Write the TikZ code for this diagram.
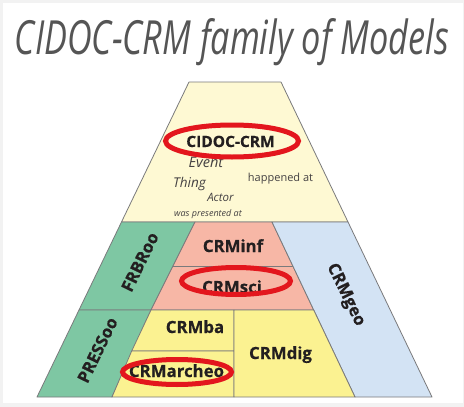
\documentclass[tikz,border=0pt]{standalone}
\usepackage{fontspec}
\setmainfont{Open Sans}
\newfontfamily\labfont{Open Sans}[BoldFeatures={FakeBold=0.5}]
\usepackage{graphicx}
\definecolor{pagegray}{HTML}{F2F2F2}
\definecolor{cream}{HTML}{FEF9D3}
\definecolor{frgreen}{HTML}{7EC7A3}
\definecolor{pinkc}{HTML}{F7B7A6}
\definecolor{bluec}{HTML}{D3E3F4}
\definecolor{yellowc}{HTML}{FBF291}
\definecolor{redc}{HTML}{E3161D}
\definecolor{edgec}{HTML}{7A7A7C}
\definecolor{titlec}{HTML}{555555}
\definecolor{labelc}{HTML}{231F20}
\tikzset{
  part/.style={draw=edgec, line width=0.8pt, line join=round},
  lab/.style={font=\labfont\fontsize{16.8}{18}\selectfont\bfseries, text=labelc, inner sep=0pt},
  ital/.style={font=\itshape, text=labelc!85, inner sep=0pt},
  ring/.style={draw=redc, line width=5pt},
}
\begin{document}
\begin{tikzpicture}[x=1pt,y=-1pt]
\useasboundingbox (0,0) rectangle (464,407);
\fill[pagegray] (0,0) rectangle (464,407);
\fill[white] (3,3) rectangle (463,403);
% title
\node[anchor=base, text=titlec, inner sep=0pt] (title) at (232,54.5)
  {\resizebox{434pt}{36pt}{\itshape CIDOC-CRM family of Models}};
% regions
\path[part, fill=cream] (189,82) -- (281,82) -- (348,222) -- (121.5,222) -- cycle;
\path[part, fill=frgreen] (121.5,222) -- (195,222) -- (151,310) -- (79,310) -- cycle;
\path[part, fill=pinkc] (195,222) -- (272,222) -- (313.7,310) -- (151,310) -- cycle;
\draw[part] (172.5,266) -- (292.9,266);
\path[part, fill=bluec] (272,222) -- (348,222) -- (432,397) -- (355,397) -- cycle;
\path[part, fill=frgreen] (79,310) -- (151,310) -- (112,397) -- (37,397) -- cycle;
\path[part, fill=yellowc] (151,310) -- (234,310) -- (234,351) -- (131.7,351) -- cycle;
\path[part, fill=yellowc] (131.7,351) -- (234,351) -- (234,397) -- (112,397) -- cycle;
\path[part, fill=yellowc] (234,310) -- (313.7,310) -- (355,397) -- (234,397) -- cycle;
% texts of the top section
\node[ital, anchor=base, font=\fontsize{14.5}{16}\selectfont\itshape] (event) at (206,167) {Event};
\node[lab, anchor=base, font=\labfont\fontsize{15.5}{17}\selectfont\bfseries] (cidoc) at (230.5,147) {CIDOC-CRM};
\draw[ring] (232,141) ellipse [x radius=66.5pt, y radius=16pt];
\node[ital, anchor=base, font=\fontsize{13.5}{15}\selectfont\itshape] (thing) at (189.5,187) {Thing};
\node[ital, anchor=base, font=\fontsize{11.5}{13}\selectfont\itshape] (actor) at (220.5,201) {Actor};
\node[anchor=base, inner sep=0pt, text=labelc!85, font=\fontsize{11}{13}\selectfont] (happened) at (280.5,181) {happened at};
\node[ital, anchor=base, font=\fontsize{9}{10}\selectfont\itshape] (presented) at (208,216) {was presented at};
% labels
\node[lab, anchor=base] (inf) at (233,252) {CRMinf};
\node[lab, anchor=base] (sci) at (232,293) {CRMsci};
\node[lab, anchor=base] (ba) at (195,333) {CRMba};
\node[lab, anchor=base] (archeo) at (176.5,377) {CRMarcheo};
\node[lab, anchor=base] (dig) at (280.5,359) {CRMdig};
\node[lab, rotate=64] (frbr) at (140,262) {FRBRoo};
\node[lab, rotate=64] (press) at (97.5,350) {PRESSoo};
\node[lab, rotate=-64] (geo) at (345.5,295) {CRMgeo};
% red rings
\draw[ring] (236,281) ellipse [x radius=54.5pt, y radius=13.5pt];
\draw[ring] (177,372) ellipse [x radius=54.5pt, y radius=12.5pt];
\end{tikzpicture}
\end{document}
